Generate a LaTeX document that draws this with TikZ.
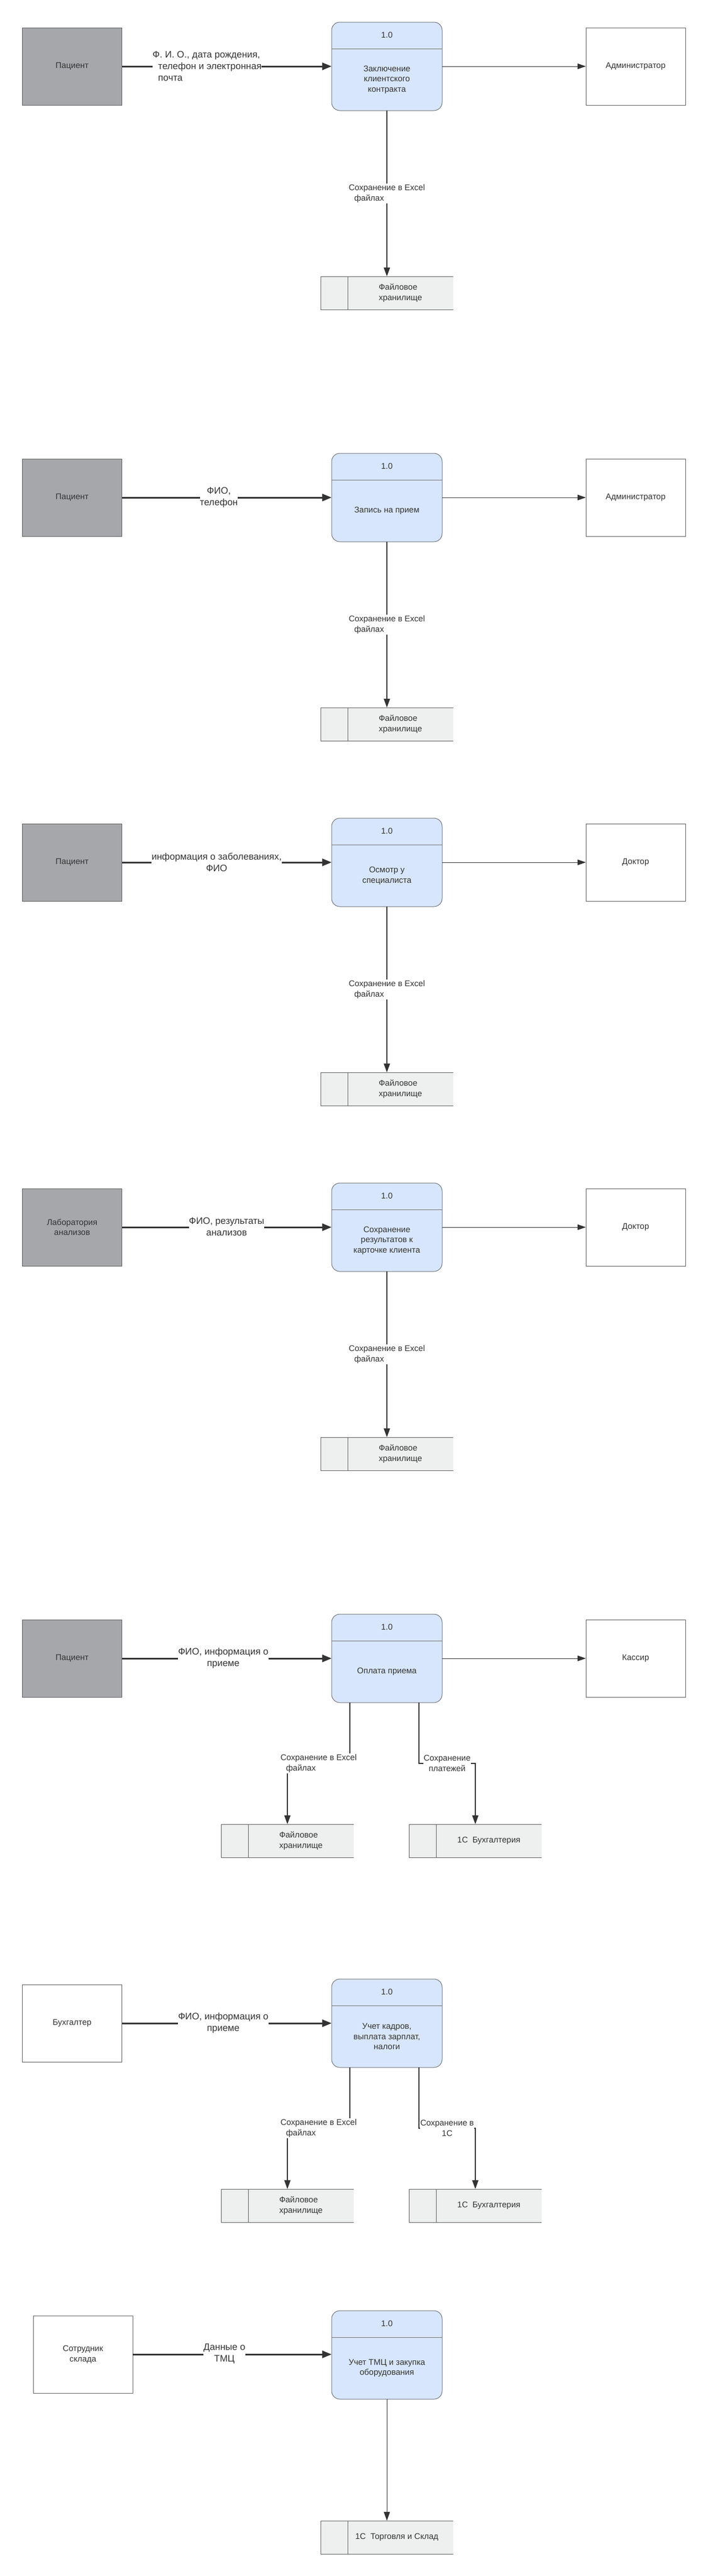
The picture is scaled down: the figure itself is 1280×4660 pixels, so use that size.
\documentclass[tikz,border=0pt]{standalone}
\usepackage{fontspec}
\setmainfont{Liberation Sans}
\usetikzlibrary{arrows.meta}
\definecolor{txt}{HTML}{333333}
\definecolor{ln}{HTML}{333333}
\definecolor{bord}{HTML}{5F5F5F}
\definecolor{entgray}{HTML}{A6A7AB}
\definecolor{procfill}{HTML}{D7E6FC}
\definecolor{procbord}{HTML}{6F737A}
\definecolor{storefill}{HTML}{EEF0EF}
\newcommand{\fsm}{\fontsize{15}{18.5}\selectfont}
\newcommand{\fbig}{\fontsize{17}{21}\selectfont}
\tikzset{
 ent/.style={draw=bord, line width=1pt, minimum width=180pt, minimum height=140pt, inner sep=0pt, outer sep=0pt, font=\fsm, text=txt, align=center},
 gent/.style={ent, fill=entgray},
 went/.style={ent, fill=white},
 proc/.style={draw=procbord, fill=procfill, line width=1pt, rounded corners=15pt, minimum width=200pt, minimum height=160pt, inner sep=0pt, outer sep=0pt},
 procsep/.style={draw=procbord, line width=1pt},
 ptxt/.style={font=\fsm, text=txt, align=center, inner sep=0pt},
 storebox/.style={fill=storefill, minimum width=240pt, minimum height=60pt, inner sep=0pt, outer sep=0pt},
 storeline/.style={draw=bord, line width=1pt},
 stxt/.style={font=\fsm, text=txt, align=left, inner sep=0pt},
 inflow/.style={draw=ln, line width=3pt, -{Triangle[length=17pt,width=13pt]}},
 outflow/.style={draw=ln, line width=1pt, -{Triangle[length=15pt,width=10pt]}},
 dsflow/.style={draw=ln, line width=2pt, -{Triangle[length=16pt,width=11pt]}},
 dsthin/.style={draw=ln, line width=1pt, -{Triangle[length=16pt,width=11pt]}},
 biglbl/.style={font=\fbig, text=txt, fill=white, inner xsep=0pt, inner ysep=1pt, align=center},
 smlbl/.style={font=\fsm, text=txt, fill=white, inner xsep=1pt, inner ysep=2pt, align=left},
}
\begin{document}
\begin{tikzpicture}[x=1pt,y=-1pt]
\useasboundingbox[fill=white] (0,0) rectangle (1280,4660);

% ---------------- Section 1
\begin{scope}[shift={(0,0)}]
 \node[gent] (e1) at (130.5,120) {Пациент};
 \node[proc] (p1) at (700,120) {};
 \draw[procsep] ([yshift=-48pt]p1.north west) -- ([yshift=-48pt]p1.north east);
 \node[ptxt] (p1n) at ([yshift=-23pt]p1.north) {1.0};
 \node[ptxt] (p1t) at ([yshift=-24pt]p1.center) {Заключение\\клиентского\\контракта};
 \node[went] (a1) at (1150,120) {Администратор};
 \node[storebox] (s1) at (700,530) {};
 \draw[storeline] (s1.north east) -- (s1.north west) -- (s1.south west) -- (s1.south east);
 \draw[storeline] ([xshift=49pt]s1.north west) -- ([xshift=49pt]s1.south west);
 \node[stxt] (s1t) at ([xshift=24.5pt]s1.center) {Файловое\\хранилище};
 \draw[inflow] (e1.east) -- (p1.west);
 \node[biglbl, align=left, anchor=west] (l1) at (276,120) {Ф. И. О., дата рождения,\\\hspace*{10pt}телефон и электронная\\\hspace*{10pt}почта};
 \draw[outflow] (p1.east) -- (a1.west);
 \draw[dsflow] (p1.south) -- node[smlbl] (d1) {Сохранение в Excel\\\hspace*{10pt}файлах} (s1.north);
\end{scope}

% ---------------- Section 2
\begin{scope}[shift={(0,780)}]
 \node[gent] (e2) at (130.5,120) {Пациент};
 \node[proc] (p2) at (700,120) {};
 \draw[procsep] ([yshift=-48pt]p2.north west) -- ([yshift=-48pt]p2.north east);
 \node[ptxt] (p2n) at ([yshift=-23pt]p2.north) {1.0};
 \node[ptxt] (p2t) at ([yshift=-24pt]p2.center) {Запись на прием};
 \node[went] (a2) at (1150,120) {Администратор};
 \node[storebox] (s2) at (700,530) {};
 \draw[storeline] (s2.north east) -- (s2.north west) -- (s2.south west) -- (s2.south east);
 \draw[storeline] ([xshift=49pt]s2.north west) -- ([xshift=49pt]s2.south west);
 \node[stxt] (s2t) at ([xshift=24.5pt]s2.center) {Файловое\\хранилище};
 \draw[inflow] (e2.east) -- (p2.west);
 \node[biglbl] (l2) at (396,119.5) {ФИО,\\телефон};
 \draw[outflow] (p2.east) -- (a2.west);
 \draw[dsflow] (p2.south) -- node[smlbl] (d2) {Сохранение в Excel\\\hspace*{10pt}файлах} (s2.north);
\end{scope}

% ---------------- Section 3
\begin{scope}[shift={(0,1440)}]
 \node[gent] (e3) at (130.5,120) {Пациент};
 \node[proc] (p3) at (700,120) {};
 \draw[procsep] ([yshift=-48pt]p3.north west) -- ([yshift=-48pt]p3.north east);
 \node[ptxt] (p3n) at ([yshift=-23pt]p3.north) {1.0};
 \node[ptxt] (p3t) at ([yshift=-24pt]p3.center) {Осмотр у\\специалиста};
 \node[went] (a3) at (1150,120) {Доктор};
 \node[storebox] (s3) at (700,530) {};
 \draw[storeline] (s3.north east) -- (s3.north west) -- (s3.south west) -- (s3.south east);
 \draw[storeline] ([xshift=49pt]s3.north west) -- ([xshift=49pt]s3.south west);
 \node[stxt] (s3t) at ([xshift=24.5pt]s3.center) {Файловое\\хранилище};
 \draw[inflow] (e3.east) -- (p3.west);
 \node[biglbl] (l3) at (392,119.5) {информация о заболеваниях,\\ФИО};
 \draw[outflow] (p3.east) -- (a3.west);
 \draw[dsflow] (p3.south) -- node[smlbl] (d3) {Сохранение в Excel\\\hspace*{10pt}файлах} (s3.north);
\end{scope}

% ---------------- Section 4
\begin{scope}[shift={(0,2100)}]
 \node[gent] (e4) at (130.5,120) {Лаборатория\\анализов};
 \node[proc] (p4) at (700,120) {};
 \draw[procsep] ([yshift=-48pt]p4.north west) -- ([yshift=-48pt]p4.north east);
 \node[ptxt] (p4n) at ([yshift=-23pt]p4.north) {1.0};
 \node[ptxt] (p4t) at ([yshift=-24pt]p4.center) {Сохранение\\результатов к\\карточке клиента};
 \node[went] (a4) at (1150,120) {Доктор};
 \node[storebox] (s4) at (700,530) {};
 \draw[storeline] (s4.north east) -- (s4.north west) -- (s4.south west) -- (s4.south east);
 \draw[storeline] ([xshift=49pt]s4.north west) -- ([xshift=49pt]s4.south west);
 \node[stxt] (s4t) at ([xshift=24.5pt]s4.center) {Файловое\\хранилище};
 \draw[inflow] (e4.east) -- (p4.west);
 \node[biglbl] (l4) at (410,119.5) {ФИО, результаты\\анализов};
 \draw[outflow] (p4.east) -- (a4.west);
 \draw[dsflow] (p4.south) -- node[smlbl] (d4) {Сохранение в Excel\\\hspace*{10pt}файлах} (s4.north);
\end{scope}

% ---------------- Section 5
\begin{scope}[shift={(0,2880)}]
 \node[gent] (e5) at (130.5,120) {Пациент};
 \node[proc] (p5) at (700,120) {};
 \draw[procsep] ([yshift=-48pt]p5.north west) -- ([yshift=-48pt]p5.north east);
 \node[ptxt] (p5n) at ([yshift=-23pt]p5.north) {1.0};
 \node[ptxt] (p5t) at ([yshift=-24pt]p5.center) {Оплата приема};
 \node[went] (a5) at (1150,120) {Кассир};
 \node[storebox] (s5a) at (520,450) {};
 \draw[storeline] (s5a.north east) -- (s5a.north west) -- (s5a.south west) -- (s5a.south east);
 \draw[storeline] ([xshift=49pt]s5a.north west) -- ([xshift=49pt]s5a.south west);
 \node[stxt] (s5at) at ([xshift=24.5pt]s5a.center) {Файловое\\хранилище};
 \node[storebox] (s5b) at (860,450) {};
 \draw[storeline] (s5b.north east) -- (s5b.north west) -- (s5b.south west) -- (s5b.south east);
 \draw[storeline] ([xshift=49pt]s5b.north west) -- ([xshift=49pt]s5b.south west);
 \node[stxt] (s5bt) at ([xshift=24.5pt]s5b.center) {1С\ \ Бухгалтерия};
 \draw[inflow] (e5.east) -- (p5.west);
 \node[biglbl] (l5) at (404,119.5) {ФИО, информация о\\приеме};
 \draw[outflow] (p5.east) -- (a5.west);
 \draw[dsflow] ([xshift=-67pt]p5.south) -- ++(0,110) -| node[smlbl, pos=0.25] (d5a) {Сохранение в Excel\\\hspace*{10pt}файлах} (s5a.north);
 \draw[dsflow] ([xshift=58pt]p5.south) -- ++(0,110) -| node[smlbl, pos=0.25, align=center] (d5b) {Сохранение\\платежей} (s5b.north);
\end{scope}

% ---------------- Section 6
\begin{scope}[shift={(0,3540)}]
 \node[went] (e6) at (130.5,120) {Бухгалтер};
 \node[proc] (p6) at (700,120) {};
 \draw[procsep] ([yshift=-48pt]p6.north west) -- ([yshift=-48pt]p6.north east);
 \node[ptxt] (p6n) at ([yshift=-23pt]p6.north) {1.0};
 \node[ptxt] (p6t) at ([yshift=-24pt]p6.center) {Учет кадров,\\выплата зарплат,\\налоги};
 \node[storebox] (s6a) at (520,450) {};
 \draw[storeline] (s6a.north east) -- (s6a.north west) -- (s6a.south west) -- (s6a.south east);
 \draw[storeline] ([xshift=49pt]s6a.north west) -- ([xshift=49pt]s6a.south west);
 \node[stxt] (s6at) at ([xshift=24.5pt]s6a.center) {Файловое\\хранилище};
 \node[storebox] (s6b) at (860,450) {};
 \draw[storeline] (s6b.north east) -- (s6b.north west) -- (s6b.south west) -- (s6b.south east);
 \draw[storeline] ([xshift=49pt]s6b.north west) -- ([xshift=49pt]s6b.south west);
 \node[stxt] (s6bt) at ([xshift=24.5pt]s6b.center) {1С\ \ Бухгалтерия};
 \draw[inflow] (e6.east) -- (p6.west);
 \node[biglbl] (l6) at (404,119.5) {ФИО, информация о\\приеме};
 \draw[dsflow] ([xshift=-67pt]p6.south) -- ++(0,110) -| node[smlbl, pos=0.25] (d6a) {Сохранение в Excel\\\hspace*{10pt}файлах} (s6a.north);
 \draw[dsflow] ([xshift=58pt]p6.south) -- ++(0,110) -| node[smlbl, pos=0.25, align=center] (d6b) {Сохранение в\\1С} (s6b.north);
\end{scope}

% ---------------- Section 7
\begin{scope}[shift={(0,4140)}]
 \node[went] (e7) at (150,119) {Сотрудник\\склада};
 \node[proc] (p7) at (700,120) {};
 \draw[procsep] ([yshift=-48pt]p7.north west) -- ([yshift=-48pt]p7.north east);
 \node[ptxt] (p7n) at ([yshift=-23pt]p7.north) {1.0};
 \node[ptxt] (p7t) at ([yshift=-24pt]p7.center) {Учет ТМЦ и закупка\\оборудования};
 \node[storebox] (s7) at (700,450) {};
 \draw[storeline] (s7.north east) -- (s7.north west) -- (s7.south west) -- (s7.south east);
 \draw[storeline] ([xshift=49pt]s7.north west) -- ([xshift=49pt]s7.south west);
 \node[stxt] (s7t) at ([xshift=18pt]s7.center) {1С\ \ Торговля и Склад};
 \draw[inflow] (e7.east) -- (e7.east -| p7.west);
 \node[biglbl] (l7) at (406,118) {Данные о\\ТМЦ};
 \draw[dsthin] (p7.south) -- (s7.north);
\end{scope}
\end{tikzpicture}
\end{document}
